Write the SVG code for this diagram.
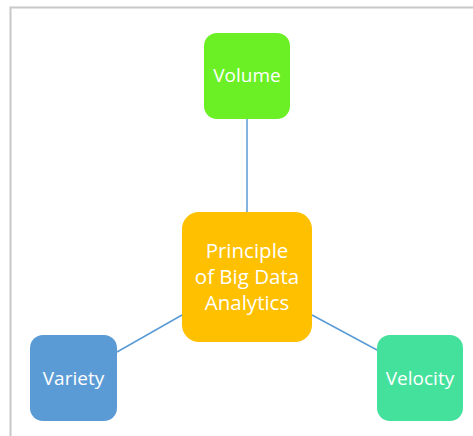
<svg xmlns="http://www.w3.org/2000/svg" width="473" height="436" viewBox="0 0 473 436">
<style>
.t{font-family:"Open Sans","Liberation Sans",sans-serif;font-size:19px;fill:#fff;text-anchor:middle}
.b{font-size:20.5px}
.c{stroke:#5B9BD5;stroke-width:1.5;fill:none}
</style>
<rect width="473" height="436" fill="#fff"/>
<path d="M10.5,436 V7.5 H473" fill="none" stroke="#c8c8c8" stroke-width="2"/>
<g id="connectors">
<line class="c" x1="247" y1="119" x2="247" y2="212"/>
<line class="c" x1="117" y1="352" x2="182" y2="315"/>
<line class="c" x1="312" y1="315" x2="377" y2="350"/>
</g>
<g id="volume">
<rect x="204" y="33" width="86" height="86" rx="13" fill="#6BF026"/>
<text class="t" x="247" y="82">Volume</text>
</g>
<g id="center">
<rect x="182" y="212" width="130" height="130" rx="17" fill="#FFC000"/>
<text class="t b" x="247" y="258">Principle</text>
<text class="t b" x="247" y="284">of Big Data</text>
<text class="t b" x="247" y="310">Analytics</text>
</g>
<g id="variety">
<rect x="30" y="335" width="87" height="86" rx="13" fill="#5B9BD5"/>
<text class="t" x="73.5" y="385">Variety</text>
</g>
<g id="velocity">
<rect x="377" y="335" width="86" height="86" rx="13" fill="#44E19C"/>
<text class="t" x="420" y="385">Velocity</text>
</g>
</svg>
